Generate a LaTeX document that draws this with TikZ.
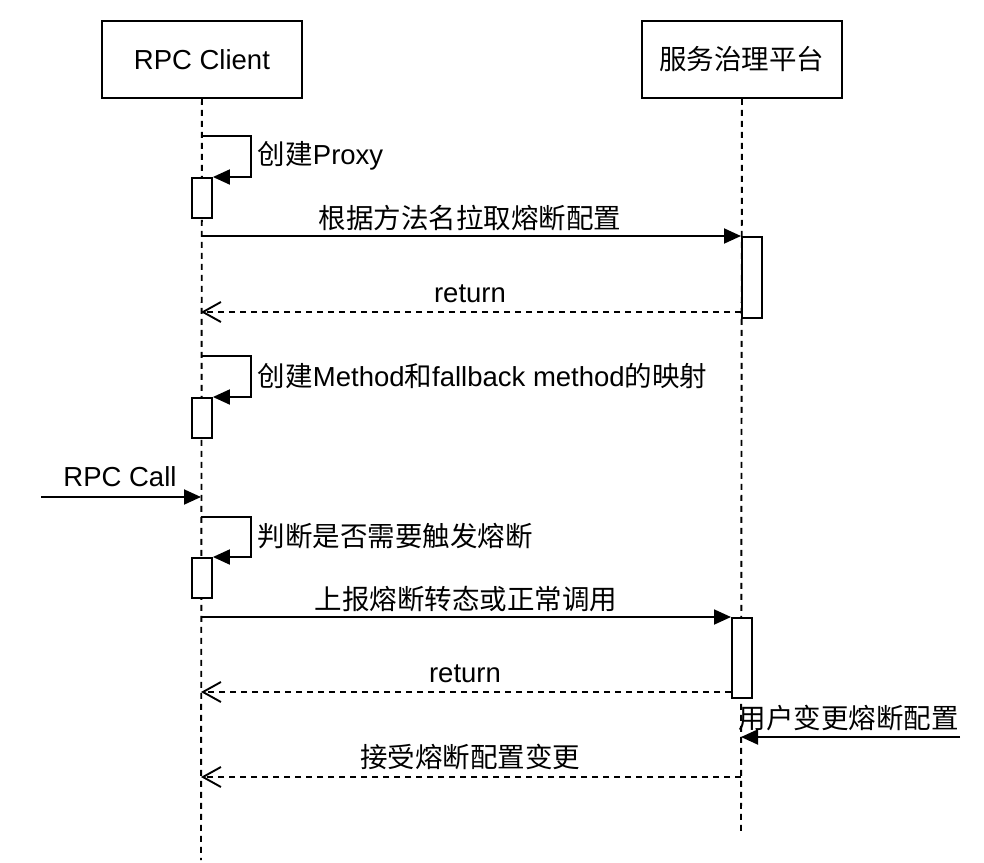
\documentclass[tikz,border=0pt]{standalone}
\usepackage{fontspec}
\setmainfont{Liberation Sans}
\newfontfamily\cjk{Noto Sans CJK SC}
\usetikzlibrary{arrows.meta}
\begin{document}
\begin{tikzpicture}[x=1pt,y=-1pt,line width=1.9pt,
  every node/.style={font=\fontsize{27.5}{32}\selectfont, inner sep=0pt},
  actor/.style={draw, minimum width=200pt, minimum height=77pt, anchor=north west},
  act/.style={draw, fill=white, minimum width=20pt, anchor=north west},
  life/.style={dash pattern=on 6pt off 5pt},
  msg/.style={-{Triangle[length=17pt,width=15pt]}},
  ret/.style={dash pattern=on 6pt off 5pt, -{Straight Barb[length=18pt,width=20pt,line width=1.9pt]}},
  lbl/.style={anchor=west}]
\useasboundingbox (0,0) rectangle (984,862);
% actors
\node[actor] (A) at (101,20) {RPC Client};
\node[actor] (B) at (641,20) {\cjk 服务治理平台};
\coordinate (Aend) at (201,860);
\coordinate (Bend) at (741,835);
\draw[life] (A.south) -- (Aend);
\draw[life] (B.south) -- (Bend);
% self call 1
\node[act, minimum height=40pt] (a1) at (191,177) {};
\coordinate (s1a) at (201,136);
\coordinate (s1b) at (251,136);
\coordinate (s1c) at (251,177);
\draw[msg] (s1a) -- (s1b) -- (s1c) -- (a1.north east);
\node[lbl] (t1) at (257,156) {\cjk 创建\normalfont Proxy};
% message 1
\node[act, minimum height=81pt] (b1) at (741,236) {};
\coordinate (m1s) at (201,236);
\draw[msg] (m1s) -- (b1.north west);
\node (t2) at (470,218) {\cjk 根据方法名拉取熔断配置};
\coordinate (r1e) at (201,312);
\coordinate (r1s) at (741,312);
\draw[ret] (r1s) -- (r1e);
\node (t3) at (470,294) {return};
% self call 2
\node[act, minimum height=40pt] (a2) at (191,397) {};
\coordinate (s2a) at (201,356);
\coordinate (s2b) at (251,356);
\coordinate (s2c) at (251,397);
\draw[msg] (s2a) -- (s2b) -- (s2c) -- (a2.north east);
\node[lbl] (t4) at (257,376) {\cjk 创建\normalfont Method\cjk 和\normalfont fallback method\cjk 的映射};
% RPC call
\coordinate (c0) at (41,497);
\coordinate (c1) at (201,497);
\draw[msg] (c0) -- (c1);
\node (t5) at (120,477) {RPC Call};
% self call 3
\node[act, minimum height=40pt] (a3) at (191,557) {};
\coordinate (s3a) at (201,517);
\coordinate (s3b) at (251,517);
\coordinate (s3c) at (251,557);
\draw[msg] (s3a) -- (s3b) -- (s3c) -- (a3.north east);
\node[lbl] (t6) at (257,536) {\cjk 判断是否需要触发熔断};
% message 2
\node[act, minimum height=80pt] (b2) at (731,617) {};
\coordinate (m2s) at (201,617);
\draw[msg] (m2s) -- (b2.north west);
\node (t7) at (466,599) {\cjk 上报熔断转态或正常调用};
\coordinate (r2s) at (731,692);
\coordinate (r2e) at (201,692);
\draw[ret] (r2s) -- (r2e);
\node (t8) at (465,674) {return};
% user change
\coordinate (u0) at (960,737);
\coordinate (u1) at (741,737);
\draw[msg] (u0) -- (u1);
\node[lbl] (t9) at (738,718) {\cjk 用户变更熔断配置};
\coordinate (r3s) at (741,777);
\coordinate (r3e) at (201,777);
\draw[ret] (r3s) -- (r3e);
\node (t10) at (470,757) {\cjk 接受熔断配置变更};
\end{tikzpicture}
\end{document}
